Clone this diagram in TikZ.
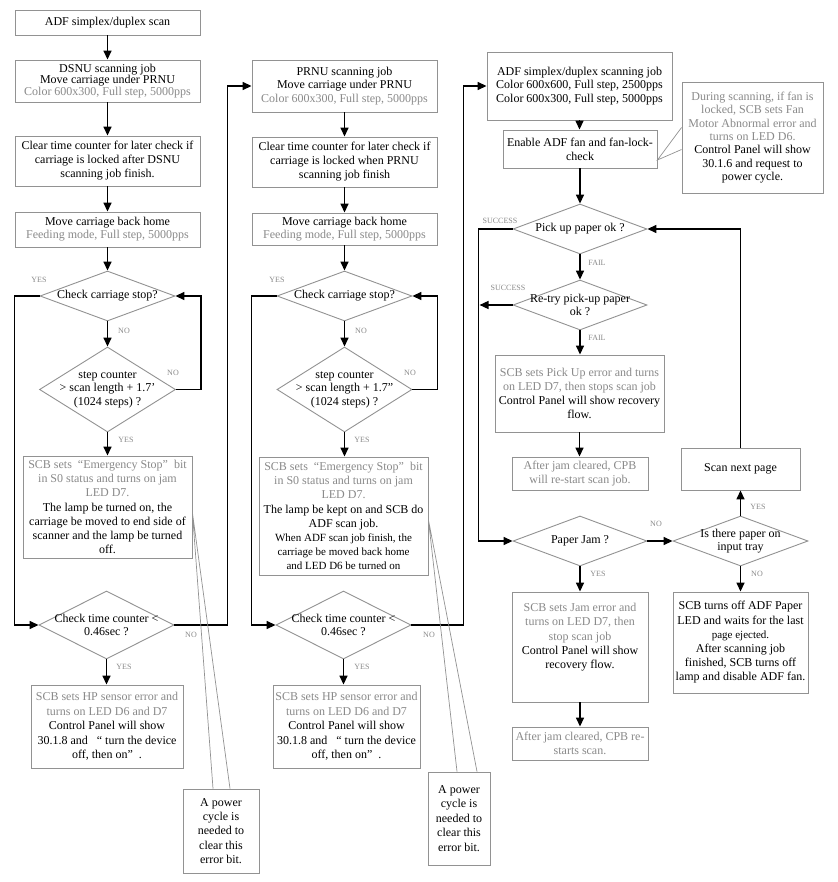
\documentclass[tikz,border=0pt]{standalone}
\usepackage{fontspec}
\setmainfont{Liberation Serif}
\usetikzlibrary{shapes.geometric,arrows.meta}
\definecolor{gtext}{HTML}{8A8A8A}
\definecolor{gline}{HTML}{929292}
\newcommand\gry[1]{{\color{gtext}#1}}
\begin{document}
\begin{tikzpicture}[x=1pt,y=-1pt,
  box/.style={draw=gline, line width=0.9pt, rectangle, inner sep=0pt, align=center, font=\fontsize{12}{13.5}\selectfont, text=black},
  dia/.style={draw=gline, line width=0.9pt, diamond, inner sep=0pt},
  dlab/.style={align=center, font=\fontsize{12}{13.5}\selectfont, inner sep=0pt, text=black},
  arr/.style={draw=black, line width=1.5pt, -{Triangle[length=9pt,width=8pt]}},
  lab/.style={text=gtext, font=\fontsize{8}{8}\selectfont, inner sep=0pt},
  co/.style={draw=gline, line width=0.7pt},
]
\fill[white] (0,0) rectangle (837,882);
\useasboundingbox (0,0) rectangle (837,882);

% ---------------- column 1 ----------------
\node[box, minimum width=185pt, minimum height=25pt] (b1) at (107.5,22.5) {ADF simplex/duplex scan};
\node[box, minimum width=185pt, minimum height=42pt, font=\fontsize{12}{11.2}\selectfont] (b2) at (107.5,81) {DSNU scanning job\\Move carriage under PRNU\\\gry{Color 600x300, Full step, 5000pps}};
\node[box, minimum width=185pt, minimum height=50pt, font=\fontsize{12}{14}\selectfont] (b3) at (107.5,161) {Clear time counter for later check if\\carriage is locked after DSNU\\scanning job finish.};
\node[box, minimum width=185pt, minimum height=35pt, font=\fontsize{12}{13}\selectfont] (b4) at (107.5,229.5) {Move carriage back home\\\gry{Feeding mode, Full step, 5000pps}};
\node[dia, minimum width=135pt, minimum height=50pt, label={[dlab]center:{Check carriage stop?}}] (d1) at (107.5,296) {};
\node[dia, minimum width=136pt, minimum height=85pt, label={[dlab]center:{step counter\\> scan length + 1.7'\\(1024 steps) ?}}] (d2) at (107.5,389.5) {};
\node[box, minimum width=169pt, minimum height=102pt, font=\fontsize{12}{14.2}\selectfont] (b5) at (107.5,507) {\gry{SCB sets \ “Emergency Stop” \ bit}\\\gry{in S0 status and turns on jam}\\\gry{LED D7.}\\The lamp be turned on, the\\carriage be moved to end side of\\scanner and the lamp be turned\\off.};
\node[dia, minimum width=135pt, minimum height=68pt, label={[dlab]center:{Check time counter <\\0.46sec ?}}] (d3) at (106.5,625) {};
\node[box, minimum width=152pt, minimum height=83pt, font=\fontsize{12}{14.5}\selectfont] (b6) at (107,726.5) {\gry{SCB sets HP sensor error and}\\\gry{turns on LED D6 and D7}\\Control Panel will show\\30.1.8 and \ \ “ turn the device\\off, then on” \ .};
\node[box, minimum width=76pt, minimum height=84pt, font=\fontsize{12}{14.4}\selectfont] (c1) at (221,831) {A power\\cycle is\\needed to\\clear this\\error bit.};

% ---------------- column 2 ----------------
\node[box, minimum width=185pt, minimum height=52pt, font=\fontsize{12}{13.5}\selectfont] (p1) at (344.5,86) {PRNU scanning job\\Move carriage under PRNU\\\gry{Color 600x300, Full step, 5000pps}};
\node[box, minimum width=185pt, minimum height=50pt, font=\fontsize{12}{14}\selectfont] (p2) at (344.5,162) {Clear time counter for later check if\\carriage is locked when PRNU\\scanning job finish};
\node[box, minimum width=185pt, minimum height=32pt, font=\fontsize{12}{13}\selectfont] (p3) at (344.5,229) {Move carriage back home\\\gry{Feeding mode, Full step, 5000pps}};
\node[dia, minimum width=135pt, minimum height=50pt, label={[dlab]center:{Check carriage stop?}}] (e1) at (344.5,296) {};
\node[dia, minimum width=135pt, minimum height=85pt, label={[dlab]center:{step counter\\> scan length + 1.7"\\(1024 steps) ?}}] (e2) at (344.5,389.5) {};
\node[box, minimum width=169pt, minimum height=118pt, font=\fontsize{12}{14.2}\selectfont] (p5) at (343.5,516) {\gry{SCB sets \ “Emergency Stop” \ bit}\\\gry{in S0 status and turns on jam}\\\gry{LED D7.}\\The lamp be kept on and SCB do\\ADF scan job.\\{\fontsize{11}{13.5}\selectfont When ADF scan job finish, the}\\{\fontsize{11}{13.5}\selectfont carriage be moved back home}\\{\fontsize{11}{13.5}\selectfont and LED D6 be turned on}};
\node[dia, minimum width=135pt, minimum height=68pt, label={[dlab]center:{Check time counter <\\0.46sec ?}}] (e3) at (343.5,625) {};
\node[box, minimum width=147pt, minimum height=83pt, font=\fontsize{12}{14.5}\selectfont] (p6) at (346.5,726.5) {\gry{SCB sets HP sensor error and}\\\gry{turns on LED D6 and D7}\\Control Panel will show\\30.1.8 and \ \ “ turn the device\\off, then on” \ .};
\node[box, minimum width=62pt, minimum height=93pt, font=\fontsize{12}{14.4}\selectfont] (c2) at (459,818.5) {A power\\cycle is\\needed to\\clear this\\error bit.};

% ---------------- column 3 ----------------
\node[box, minimum width=185pt, minimum height=68pt, font=\fontsize{12}{13.5}\selectfont] (a1) at (579.5,86) {ADF simplex/duplex scanning job\\Color 600x600, Full step, 2500pps\\Color 600x300, Full step, 5000pps};
\node[box, minimum width=154pt, minimum height=38pt, font=\fontsize{12}{14}\selectfont] (a2) at (580,149) {Enable ADF fan and fan-lock-\\check};
\node[box, minimum width=141pt, minimum height=111pt, font=\fontsize{12}{13.4}\selectfont] (a3) at (752.5,137.5) {\gry{During scanning, if fan is}\\\gry{locked, SCB sets Fan}\\\gry{Motor Abnormal error and}\\\gry{turns on LED D6.}\\Control Panel will show\\30.1.6 and request to\\power cycle.};
\node[dia, minimum width=134pt, minimum height=50pt, label={[dlab]center:{Pick up paper ok ?}}] (f1) at (580,229) {};
\node[dia, minimum width=134pt, minimum height=50pt, label={[dlab]center:{Re-try pick-up paper\\ok ?}}] (f2) at (580,305) {};
\node[box, minimum width=169pt, minimum height=77pt, font=\fontsize{12}{14.2}\selectfont] (f3) at (579.5,393.5) {\gry{SCB sets Pick Up error and turns}\\\gry{on LED D7, then stops scan job}\\Control Panel will show recovery\\flow.};
\node[box, minimum width=136pt, minimum height=33pt, font=\fontsize{12}{14}\selectfont] (f4) at (580,473.5) {\gry{After jam cleared, CPB}\\\gry{will re-start scan job.}};
\node[dia, minimum width=134pt, minimum height=50pt, label={[dlab]center:{Paper Jam ?}}] (f5) at (580,541) {};
\node[dia, minimum width=135pt, minimum height=50pt, label={[dlab]center:{Is there paper on\\input tray}}] (f6) at (740.5,541) {};
\node[box, minimum width=119pt, minimum height=42pt] (f7) at (740.5,469) {Scan next page};
\node[box, minimum width=135pt, minimum height=101pt, font=\fontsize{12}{14.2}\selectfont] (f8) at (740.5,642.5) {SCB turns off ADF Paper\\LED and waits for the last\\{\fontsize{11}{14.2}\selectfont page ejected.}\\After scanning job\\finished, SCB turns off\\lamp and disable ADF fan.};
\node[box, minimum width=136pt, minimum height=110pt, font=\fontsize{12}{14.2}\selectfont] (f9) at (580,647) {\gry{SCB sets Jam error and}\\\gry{turns on LED D7, then}\\\gry{stop scan job}\\Control Panel will show\\recovery flow.\\[8pt]\mbox{}};
\node[box, minimum width=136pt, minimum height=33pt, font=\fontsize{12}{14}\selectfont] (f10) at (580,743.5) {\gry{After jam cleared, CPB re-}\\\gry{starts scan.}};

% ---------------- connectors ----------------
\draw[arr] (b1.south) -- (b1.south |- b2.north);
\draw[arr] (b2.south) -- (b2.south |- b3.north);
\draw[arr] (b3.south) -- (b3.south |- b4.north);
\draw[arr] (b4.south) -- (b4.south |- d1.north);
\draw[arr] (d1.south) -- (d1.south |- d2.north);
\draw[arr] (d2.south) -- (d2.south |- b5.north);
\draw[arr] (d3.south) -- (d3.south |- b6.north);
\draw[arr] (d1.west) -- ++(-25,0) |- (d3.west);
\draw[arr] (d2.east) -- ++(25,0) |- (d1.east);
\draw[arr] (d3.east) -- ++(53,0) |- (p1.west);

\draw[arr] (p1.south) -- (p1.south |- p2.north);
\draw[arr] (p2.south) -- (p2.south |- p3.north);
\draw[arr] (p3.south) -- (p3.south |- e1.north);
\draw[arr] (e1.south) -- (e1.south |- e2.north);
\draw[arr] (e2.south) -- (e2.south |- p5.north);
\draw[arr] (e3.south) -- (e3.south |- p6.north);
\draw[arr] (e1.west) -- ++(-25,0) |- (e3.west);
\draw[arr] (e2.east) -- ++(25,0) |- (e1.east);
\draw[arr] (e3.east) -- ++(52,0) |- (a1.west);

\draw[arr] (a1.south) -- (a1.south |- a2.north);
\draw[arr] (a2.south) -- (a2.south |- f1.north);
\draw[arr] (f1.south) -- (f2.north);
\draw[arr] (f2.south) -- (f2.south |- f3.north);
\draw[arr] (f3.south) -- (f3.south |- f4.north);
\draw[arr] (f1.west) -- ++(-34,0) |- (f5.west);
\draw[arr] (f2.west) -- ++(-33,0);
\draw[arr] (f5.east) -- (f6.west);
\draw[arr] (f6.north) -- (f7.south);
\draw[arr] (f7.north) |- (f1.east);
\draw[arr] (f6.south) -- (f8.north);
\draw[arr] (f5.south) -- (f9.north);
\draw[arr] (f9.south) -- (f10.north);

% callout pointers
\draw[co] ([xshift=-8pt]c1.north) -- ([yshift=-6pt]b5.east) -- ([xshift=9pt]c1.north);
\draw[co] ([xshift=-2pt]c2.north) -- ([yshift=-4pt]p5.east) -- ([xshift=18pt]c2.north);
\draw[co] ([yshift=10pt]a3.west) -- ([yshift=-11pt]a2.east) -- ([yshift=-12pt]a3.west);

% ---------------- branch labels ----------------
\node[lab] (y1) at (39,280) {YES};
\node[lab] (n1) at (124,331) {NO};
\node[lab] (n2) at (173,373) {NO};
\node[lab] (y2) at (126,440) {YES};
\node[lab] (n3) at (191,635) {NO};
\node[lab] (y3) at (124,667) {YES};

\node[lab] (y4) at (277,280) {YES};
\node[lab] (n4) at (361,331) {NO};
\node[lab] (n5) at (410,373) {NO};
\node[lab] (y5) at (362,440) {YES};
\node[lab] (n6) at (429,635) {NO};
\node[lab] (y6) at (362,667) {YES};

\node[lab] (s1) at (500,221) {SUCCESS};
\node[lab] (fa1) at (597,263) {FAIL};
\node[lab] (s2) at (508,288) {SUCCESS};
\node[lab] (fa2) at (597,338) {FAIL};
\node[lab] (n7) at (656,524) {NO};
\node[lab] (y7) at (758,507) {YES};
\node[lab] (y8) at (598,574) {YES};
\node[lab] (n8) at (757,574) {NO};
\end{tikzpicture}
\end{document}
